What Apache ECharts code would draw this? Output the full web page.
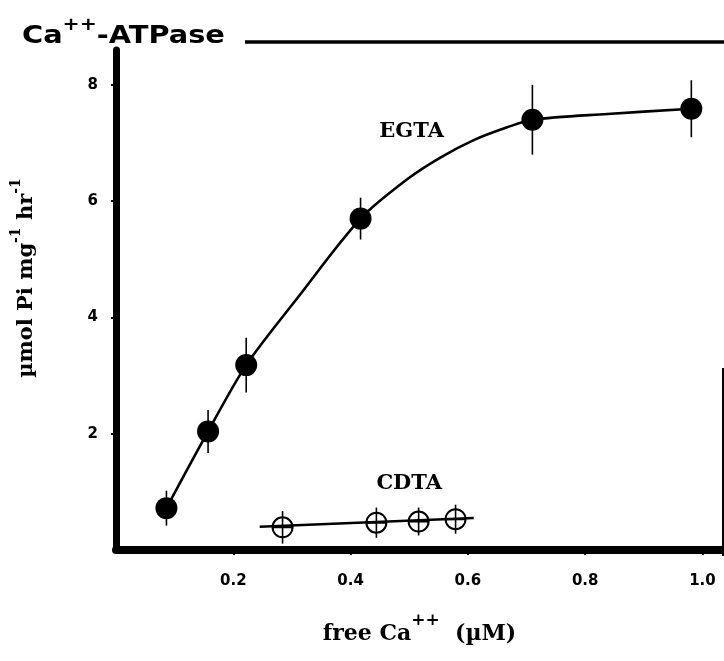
<!DOCTYPE html>
<html>
<head>
<meta charset="utf-8">
<script src="https://cdn.jsdelivr.net/npm/echarts@6/dist/echarts.min.js"></script>
<style>
  html, body { margin: 0; padding: 0; background: #fff; }
  #chart { width: 724px; height: 661px; }
</style>
</head>
<body>
<div id="chart"></div>
<script>
// EGTA measurements (filled circles) with error bars
const egtaX = [0.086, 0.157, 0.222, 0.417, 0.710, 0.981];
const egtaY = [0.72, 2.04, 3.18, 5.70, 7.40, 7.59];
const egtaErr = [0.30, 0.37, 0.47, 0.36, 0.60, 0.49];

// EGTA fitted curve
const egtaFitX = [0.086, 0.157, 0.222, 0.309, 0.417, 0.497, 0.553, 0.610, 0.667, 0.710, 0.838, 0.981];
const egtaFitY = [0.72, 2.04, 3.18, 4.33, 5.70, 6.38, 6.75, 7.05, 7.27, 7.40, 7.50, 7.59];

// CDTA measurements (open crossed circles)
const cdtaX = [0.284, 0.444, 0.516, 0.579];
const cdtaY = [0.39, 0.47, 0.49, 0.53];
const cdtaErr = [0.28, 0.26, 0.24, 0.25];

// CDTA straight line ends
const cdtaFitX = [0.245, 0.610];
const cdtaFitY = [0.40, 0.55];

// curve labels
const curveNames = ['EGTA', 'CDTA'];
const curveLabelX = [0.504, 0.500];
const curveLabelY = [7.19, 1.14];

const xTicks = [0.2, 0.4, 0.6, 0.8, 1.0];
const yTicks = [2, 4, 6, 8];

const zip = (xs, ys, es) => xs.map((x, i) => es ? [x, ys[i], es[i]] : [x, ys[i]]);

const chart = echarts.init(document.getElementById('chart'));

const errBar = (params, api) => {
  const x = api.value(0), y = api.value(1), e = api.value(2);
  const top = api.coord([x, y + e]);
  const bot = api.coord([x, y - e]);
  return {
    type: 'line',
    shape: { x1: top[0], y1: top[1], x2: bot[0], y2: bot[1] },
    style: { stroke: '#000', lineWidth: 1.6 }
  };
};

const crossCircle = 'path://M0,10A10,10,0,1,1,20,10A10,10,0,1,1,0,10ZM0,10L20,10';

const option = {
  backgroundColor: '#fff',
  animation: false,
  grid: { left: 116, right: 1, top: 50, bottom: 106 },
  xAxis: {
    type: 'value',
    min: 0,
    max: 1.035,
    interval: 0.2,
    splitLine: { show: false },
    axisLine: { lineStyle: { color: '#000', width: 8 } },
    axisTick: {
      lineStyle: { color: '#000', width: 2 }, length: 5,
      customValues: xTicks
    },
    axisLabel: {
      margin: 24,
      color: '#000',
      fontFamily: 'DejaVu Sans',
      fontWeight: 'bold',
      fontSize: 15,
      customValues: xTicks,
      formatter: v => v.toFixed(1)
    },
    name: 'free Ca{sup|++}  (µM)',
    nameLocation: 'middle',
    nameGap: 62,
    nameTextStyle: {
      color: '#000',
      fontFamily: 'DejaVu Serif',
      fontWeight: 'bold',
      fontSize: 22,
      lineHeight: 44,
      rich: {
        sup: { fontFamily: 'DejaVu Serif', fontWeight: 'bold', fontSize: 17, lineHeight: 14, verticalAlign: 'top', color: '#000' }
      }
    }
  },
  yAxis: {
    type: 'value',
    min: 0,
    max: 8.6,
    interval: 2,
    splitLine: { show: false },
    axisLine: { lineStyle: { color: '#000', width: 7 } },
    axisTick: {
      lineStyle: { color: '#000', width: 2 }, length: 5,
      customValues: yTicks
    },
    axisLabel: {
      margin: 18,
      color: '#000',
      fontFamily: 'DejaVu Sans',
      fontWeight: 'bold',
      fontSize: 15,
      customValues: yTicks
    },
    name: 'µmol Pi mg{sup|-1} hr{sup|-1}',
    nameLocation: 'middle',
    nameRotate: 90,
    nameGap: 71,
    nameTextStyle: {
      color: '#000',
      fontFamily: 'DejaVu Serif',
      fontWeight: 'bold',
      fontSize: 21,
      lineHeight: 36,
      padding: [0, 0, 0, 44],
      rich: {
        sup: { fontFamily: 'DejaVu Serif', fontWeight: 'bold', fontSize: 14, lineHeight: 12, verticalAlign: 'top', color: '#000' }
      }
    }
  },
  graphic: [
    {
      type: 'text',
      x: 22,
      y: 17,
      scaleX: 1.2,
      style: {
        text: 'Ca{sup|++}-ATPase',
        fill: '#000',
        fontFamily: 'DejaVu Sans',
        fontWeight: 'bold',
        fontSize: 24,
        lineHeight: 40,
        verticalAlign: 'top',
        rich: {
          sup: { fontFamily: 'DejaVu Sans', fontWeight: 'bold', fontSize: 17, lineHeight: 14, verticalAlign: 'top', fill: '#000' }
        }
      }
    },
    { type: 'line', shape: { x1: 245, y1: 42, x2: 724, y2: 42 }, style: { stroke: '#000', lineWidth: 3.5 } },
    { type: 'line', shape: { x1: 723, y1: 368, x2: 723, y2: 556 }, style: { stroke: '#000', lineWidth: 2 } }
  ],
  series: [
    {
      type: 'custom',
      renderItem: errBar,
      data: zip(egtaX, egtaY, egtaErr),
      z: 2
    },
    {
      type: 'custom',
      renderItem: errBar,
      data: zip(cdtaX, cdtaY, cdtaErr),
      z: 2
    },
    {
      name: 'EGTA fit',
      type: 'line',
      smooth: 0.3,
      showSymbol: false,
      data: zip(egtaFitX, egtaFitY),
      lineStyle: { color: '#000', width: 2.6 },
      z: 3,
      markPoint: {
        symbol: 'circle',
        symbolSize: 0,
        label: {
          show: true,
          position: 'inside',
          color: '#000',
          fontFamily: 'DejaVu Serif',
          fontWeight: 'bold',
          fontSize: 21,
          formatter: p => p.name
        },
        data: curveNames.map((n, i) => ({ name: n, coord: [curveLabelX[i], curveLabelY[i]] }))
      }
    },
    {
      name: 'CDTA fit',
      type: 'line',
      showSymbol: false,
      data: zip(cdtaFitX, cdtaFitY),
      lineStyle: { color: '#000', width: 2.4 },
      z: 3
    },
    {
      name: 'EGTA',
      type: 'scatter',
      symbol: 'circle',
      symbolSize: 22,
      itemStyle: { color: '#000', opacity: 1 },
      data: zip(egtaX, egtaY),
      z: 4
    },
    {
      name: 'CDTA',
      type: 'scatter',
      symbol: crossCircle,
      symbolSize: 20,
      itemStyle: { color: 'rgba(255,255,255,0)', borderColor: '#000', borderWidth: 2, opacity: 1 },
      data: zip(cdtaX, cdtaY),
      z: 4
    }
  ]
};

chart.setOption(option);
</script>
</body>
</html>
